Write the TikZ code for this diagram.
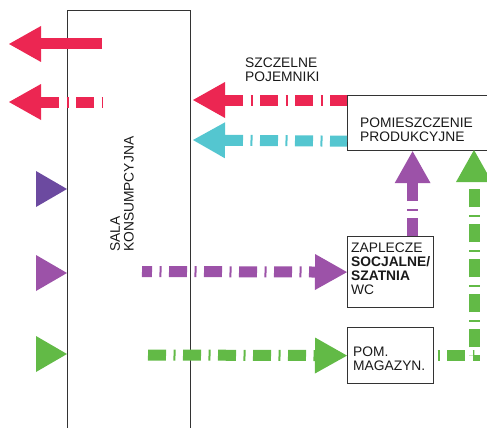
\documentclass[tikz,border=0pt]{standalone}
\usepackage{fontspec}
\setmainfont{Liberation Sans}
\usetikzlibrary{arrows.meta}
\colorlet{wall edge}{black!80}
\definecolor{flow red}{RGB}{236,38,82}
\definecolor{flow cyan}{RGB}{84,198,208}
\definecolor{flow violet}{RGB}{108,74,160}
\definecolor{flow purple}{RGB}{156,82,168}
\definecolor{flow green}{RGB}{98,186,70}
\tikzset{flow/.style={line width=11pt, dash pattern=on 18pt off 7.5pt on 2pt off 7.5pt},
    full flow/.style={line width=11pt},
    head/.style={-{Triangle[length=32pt,width=36pt,line width=0pt]}},
    back head/.style={{Triangle[length=32pt,width=36pt,line width=0pt]}-},
    box/.style={draw=wall edge, line width=1.2pt, inner sep=0pt},
    caption/.style={inner sep=0pt, align=left, text=black!90,
        font=\fontsize{13.8}{13.8}\selectfont}}

\begin{document}
\begin{tikzpicture}[x=1pt, y=-1pt]
    \useasboundingbox (0,0) rectangle (487,428);
    \clip (0,0) rectangle (487,428);
    % rooms
    \node[box, anchor=north west, minimum width=123pt, minimum height=440pt] (sala) at (67,10) {};
    \node[box, anchor=north west, minimum width=160pt, minimum height=55pt] (prod) at (347,95) {};
    \node[box, anchor=north west, minimum width=86pt, minimum height=71pt] (zaplecze) at (347,236) {};
    \node[box, anchor=north west, minimum width=86pt, minimum height=56pt] (magazyn) at (347,327) {};
    \node[caption, rotate=90, anchor=north west] (sala text) at (110,252) {SALA\\KONSUMPCYJNA};
    \node[caption, anchor=north west] (prod text) at (360,118) {POMIESZCZENIE\\PRODUKCYJNE};
    \node[caption, anchor=north west] (zaplecze text) at (351,243)
        {ZAPLECZE\\\textbf{SOCJALNE/}\\\textbf{SZATNIA}\\WC};
    \node[caption, anchor=north west] (magazyn text) at (353,347) {POM.\\MAGAZYN.};
    \node[caption, anchor=north west] (szczelne) at (245,58) {SZCZELNE\\POJEMNIKI};
    % ends of the flows
    \coordinate (out tip) at (9,44);
    \coordinate (out tail) at (102,44);
    \coordinate (waste tip) at (9,102);
    \coordinate (waste tail) at (102,102);
    \coordinate (red tip) at (193,100);
    \coordinate (cyan tip) at (193,140);
    \coordinate (purple tail) at (142,271.5);
    \coordinate (green tail) at (142,355);
    \coordinate (purple up) at ([xshift=22pt]zaplecze.north);
    \coordinate (green up) at (474,150);
    % flows
    \draw[full flow, head, flow red] (out tail) -- (out tip);
    \draw[flow, back head, flow red] (waste tip) -- (waste tail);
    \draw[flow, back head, flow red] (red tip) -- ([yshift=-5pt]prod.north west);
    \draw[flow, back head, flow cyan] (cyan tip) -- ([yshift=10pt]prod.south west);
    \draw[flow, head, dash phase=8pt, flow purple] (purple tail) -- (zaplecze.west);
    \draw[flow, head, flow purple] (purple up) -- (purple up |- prod.south);
    \draw[flow, head, dash phase=29pt, flow green] (green tail) -- (magazyn.west);
    \draw[flow, head, dash phase=22pt, flow green] (magazyn.east) -| (green up);
    % heads at the hall
    \fill[flow violet] (36,171) -- (sala.west |- 0,189) -- (36,207) -- cycle;
    \fill[flow purple] (36,255) -- (sala.west |- 0,273) -- (36,291) -- cycle;
    \fill[flow green] (36,336) -- (sala.west |- 0,354) -- (36,372) -- cycle;
\end{tikzpicture}
\end{document}
